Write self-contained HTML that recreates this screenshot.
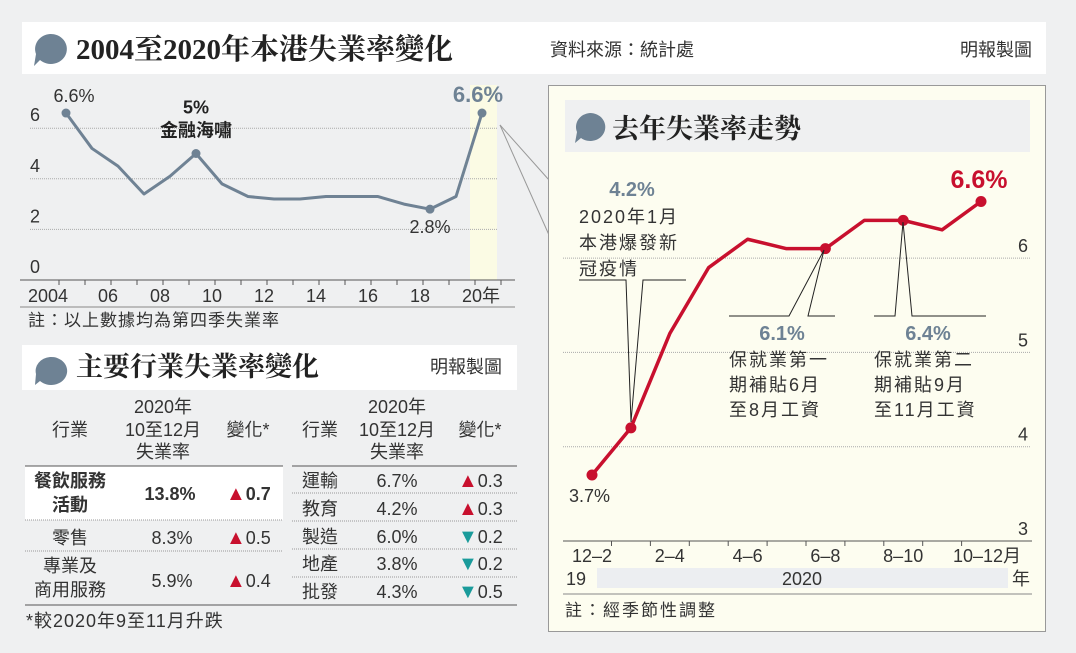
<!DOCTYPE html>
<html><head><meta charset="utf-8">
<style>
body{margin:0;background:#eff0f1;}
svg text{font-family:"Liberation Sans","Noto Sans CJK TC",sans-serif;}
.ser{font-family:"Liberation Serif","Noto Serif CJK SC",serif !important;font-weight:bold;}
</style></head><body>
<svg width="1076" height="648" viewBox="0 0 1076 648" xmlns="http://www.w3.org/2000/svg">
<rect width="1076" height="648" fill="#eff0f1"/>
<g>
<rect x="22" y="22" width="1024" height="52" fill="#fff"/>
<path d="M50 34 a16 15 0 1 1 -10 26 l-6 6 l2 -12 a16 15 0 0 1 14 -20z" fill="#6e8294"/>
<text x="76" y="59" class="ser" font-size="29" fill="#222">2004至2020年本港失業率變化</text>
<text x="550" y="56" font-size="18" fill="#333">資料來源：統計處</text>
<text x="1032" y="56" font-size="18" fill="#333" text-anchor="end">明報製圖</text>
</g>
<g id="lt">
<rect x="470" y="85" width="27" height="195" fill="#fbfbe4"/>
</g>
<line x1="500" y1="125" x2="549" y2="180" stroke="#999"/>
<line x1="500" y1="125" x2="549" y2="235" stroke="#999"/>
<text x="28" y="326" font-size="17" letter-spacing="1" fill="#333">註：以上數據均為第四季失業率</text>
<rect x="548.5" y="85.5" width="497" height="546" fill="#fdfdf0" stroke="#999"/>
<rect x="565" y="100" width="465" height="52" fill="#eff0f1"/>
<path d="M590 113 a15 14 0 1 1 -9 25 l-6 5 l2 -11 a15 14 0 0 1 13 -19z" fill="#6e8294"/>
<text x="612" y="138" class="ser" font-size="27" fill="#222">去年失業率走勢</text>
<g id="rc"></g>
<g font-size="18" fill="#333" letter-spacing="2">
<text x="632" y="196" font-size="20" letter-spacing="0" font-weight="bold" fill="#6e8294" text-anchor="middle">4.2%</text>
<text x="579" y="223">2020年1月</text>
<text x="579" y="249">本港爆發新</text>
<text x="579" y="275">冠疫情</text>
<text x="782" y="340" font-size="20" letter-spacing="0" font-weight="bold" fill="#6e8294" text-anchor="middle">6.1%</text>
<text x="729" y="366">保就業第一</text>
<text x="729" y="391">期補貼6月</text>
<text x="729" y="416">至8月工資</text>
<text x="928" y="340" font-size="20" letter-spacing="0" font-weight="bold" fill="#6e8294" text-anchor="middle">6.4%</text>
<text x="874" y="366">保就業第二</text>
<text x="874" y="391">期補貼9月</text>
<text x="874" y="416">至11月工資</text>
<text x="569" y="502" letter-spacing="0">3.7%</text>
<text x="979" y="188" font-size="25" letter-spacing="0" font-weight="bold" fill="#c8102e" text-anchor="middle">6.6%</text>
</g>
<g fill="none" stroke="#222" stroke-width="1">
<polyline points="579,280 626,280 631,422 643,280 686,280"/>
<polyline points="729,316 789,316 824,250 808,316 835,316"/>
<polyline points="874,316 895,316 903,222 912,316 986,316"/>
</g>
<line x1="563" y1="594" x2="1032" y2="594" stroke="#888"/>
<rect x="597" y="568" width="411" height="20" fill="#eceef1"/>
<g font-size="18" fill="#333">
<text x="566" y="585">19</text>
<text x="802" y="585" text-anchor="middle">2020</text>
<text x="1012" y="585">年</text>
<text x="565" y="616" font-size="17" letter-spacing="2">註：經季節性調整</text>
</g>
<g>
<rect x="22" y="345" width="495" height="45" fill="#fff"/>
<path d="M50 357 a16 14 0 1 1 -10 24 l-5 4 l1 -11 a16 14 0 0 1 14 -17z" fill="#6e8294"/>
<text x="76" y="376" class="ser" font-size="27" fill="#222">主要行業失業率變化</text>
<text x="502" y="373" font-size="18" fill="#333" text-anchor="end">明報製圖</text>
<rect x="25" y="466" width="258" height="54" fill="#fff"/>
<g font-size="18" fill="#333" text-anchor="middle">
<text x="70" y="436">行業</text><text x="163" y="413">2020年</text><text x="163" y="436">10至12月</text><text x="163" y="458">失業率</text><text x="248" y="436">變化*</text>
<text x="320" y="436">行業</text><text x="397" y="413">2020年</text><text x="397" y="436">10至12月</text><text x="397" y="458">失業率</text><text x="480" y="436">變化*</text>
<text x="70" y="487" font-weight="bold">餐飲服務</text><text x="70" y="511" font-weight="bold">活動</text>
<text x="170" y="500" font-weight="bold">13.8%</text>
<text x="70" y="544">零售</text><text x="172" y="544">8.3%</text>
<text x="70" y="572">專業及</text><text x="70" y="596">商用服務</text><text x="172" y="587">5.9%</text>
<text x="320" y="487">運輸</text><text x="397" y="487">6.7%</text>
<text x="320" y="515">教育</text><text x="397" y="515">4.2%</text>
<text x="320" y="543">製造</text><text x="397" y="543">6.0%</text>
<text x="320" y="570">地產</text><text x="397" y="570">3.8%</text>
<text x="320" y="598">批發</text><text x="397" y="598">4.3%</text>
</g>
<g font-size="18" fill="#333">
<text x="226" y="500" font-weight="bold"><tspan fill="#c8102e" font-size="20">▲</tspan>0.7</text>
<text x="226" y="544"><tspan fill="#c8102e" font-size="20">▲</tspan>0.5</text>
<text x="226" y="587"><tspan fill="#c8102e" font-size="20">▲</tspan>0.4</text>
<text x="458" y="487"><tspan fill="#c8102e" font-size="20">▲</tspan>0.3</text>
<text x="458" y="515"><tspan fill="#c8102e" font-size="20">▲</tspan>0.3</text>
<text x="458" y="543"><tspan fill="#1a9b9b" font-size="20">▼</tspan>0.2</text>
<text x="458" y="570"><tspan fill="#1a9b9b" font-size="20">▼</tspan>0.2</text>
<text x="458" y="598"><tspan fill="#1a9b9b" font-size="20">▼</tspan>0.5</text>
<text x="26" y="627" letter-spacing="1">*較2020年9至11月升跌</text>
</g>
<g stroke="#555"><line x1="25" y1="466" x2="283" y2="466"/><line x1="292" y1="466" x2="517" y2="466"/>
<line x1="25" y1="605" x2="517" y2="605"/></g>
<g stroke="#999" stroke-dasharray="1,1"><line x1="25" y1="520" x2="283" y2="520"/><line x1="25" y1="551" x2="283" y2="551"/>
<line x1="292" y1="493" x2="517" y2="493"/><line x1="292" y1="521" x2="517" y2="521"/><line x1="292" y1="549" x2="517" y2="549"/><line x1="292" y1="577" x2="517" y2="577"/></g>
</g>
</svg>
<script>
const ltYears=[2004,2005,2006,2007,2008,2009,2010,2011,2012,2013,2014,2015,2016,2017,2018,2019,2020];
const ltValues=[6.6,5.2,4.5,3.4,4.1,5.0,3.8,3.3,3.2,3.2,3.3,3.3,3.3,3.0,2.8,3.3,6.6];
const ltTicks=[0,2,4,6];
const ltXLabels=["2004","06","08","10","12","14","16","18","20年"];
const rcCats=["12–2","1–3","2–4","3–5","4–6","5–7","6–8","7–9","8–10","9–11","10–12"];
const rcValues=[3.7,4.2,5.2,5.9,6.2,6.1,6.1,6.4,6.4,6.3,6.6];
const rcTicks=[3,4,5,6];
const rcXLabels=["12–2","2–4","4–6","6–8","8–10","10–12月"];
const NS="http://www.w3.org/2000/svg";
function mk(p,t,a){const e=document.createElementNS(NS,t);for(const k in a)e.setAttribute(k,a[k]);p.appendChild(e);return e;}
const lt=document.getElementById('lt');
const lx=y=>66+(y-2004)*26, ly=v=>280-v*25.3;
ltTicks.forEach(t=>{
 if(t>0){const g=mk(lt,'line',{x1:30,x2:497,y1:ly(t),y2:ly(t),stroke:'#aaa','stroke-dasharray':'1,1'});
 
 }
 const tx=mk(lt,'text',{x:30,y:ly(t)-7,'font-size':18,fill:'#333'});tx.textContent=t;
 
 
});
mk(lt,'line',{x1:20,x2:515,y1:280,y2:280,stroke:'#555'});
mk(lt,'line',{x1:20,x2:515,y1:307,y2:307,stroke:'#888'});
ltXLabels.forEach((l,i)=>{const x=lx(2004+i*2);
 mk(lt,'line',{x1:x-7,x2:x-7,y1:280,y2:285,stroke:'#555'});
 mk(lt,'line',{x1:x+19,x2:x+19,y1:280,y2:285,stroke:'#555'});
 const t=mk(lt,'text',{x:i==0?28:x-20,y:302,'font-size':18,fill:'#333'});t.textContent=l;
 
 });
const lp=mk(lt,'polyline',{points:ltYears.map((y,i)=>lx(y)+','+ly(ltValues[i])).join(' '),fill:'none',stroke:'#6f8294','stroke-width':3,'stroke-linejoin':'round'});


[0,5,14,16].forEach(i=>{const c=mk(lt,'circle',{cx:lx(ltYears[i]),cy:ly(ltValues[i]),r:4.5,fill:'#6f8294'});
 
 });
const la=[[lx(2004)+8,ly(ltValues[0])-11,ltValues[0]+'%',18,'normal','#333'],[lx(2009),ly(ltValues[5])-40,'5%',18,'bold','#222'],[lx(2009),ly(ltValues[5])-17,'金融海嘯',18,'bold','#222'],[lx(2018),ly(ltValues[14])+24,ltValues[14]+'%',18,'normal','#333'],[lx(2020)-4,ly(ltValues[16])-11,ltValues[16]+'%',22,'bold','#6e8294']];
la.forEach(a=>{const t=mk(lt,'text',{x:a[0],y:a[1],'text-anchor':'middle','font-size':a[3],'font-weight':a[4],fill:a[5]});t.textContent=a[2];
 
 });
const rc=document.getElementById('rc');
const rx=i=>592+i*38.9, ry=v=>541-(v-3)*94.3;
rcTicks.forEach(t=>{
 if(t>3){const g=mk(rc,'line',{x1:563,x2:1030,y1:ry(t),y2:ry(t),stroke:'#aaa','stroke-dasharray':'1,1'});
 
 }
 const tx=mk(rc,'text',{x:1028,y:ry(t)-6,'font-size':18,fill:'#333','text-anchor':'end'});tx.textContent=t;
 
 
});
mk(rc,'line',{x1:563,x2:1032,y1:541,y2:541,stroke:'#555'});
for(let i=0;i<rcCats.length-1;i++){const x=rx(i)+19.5;mk(rc,'line',{x1:x,x2:x,y1:541,y2:546,stroke:'#555'});}
rcXLabels.forEach((l,i)=>{const t=mk(rc,'text',{x:i==5?rx(10)+6:rx(i*2),y:562,'font-size':18,fill:'#333','text-anchor':'middle'});t.textContent=l;
 
 });
const rp=mk(rc,'polyline',{points:rcValues.map((v,i)=>rx(i)+','+ry(v)).join(' '),fill:'none',stroke:'#c8102e','stroke-width':3.5,'stroke-linejoin':'round'});


[0,1,6,8,10].forEach(i=>{const c=mk(rc,'circle',{cx:rx(i),cy:ry(rcValues[i]),r:5.5,fill:'#c8102e'});
 
 });
</script>
</body></html>
